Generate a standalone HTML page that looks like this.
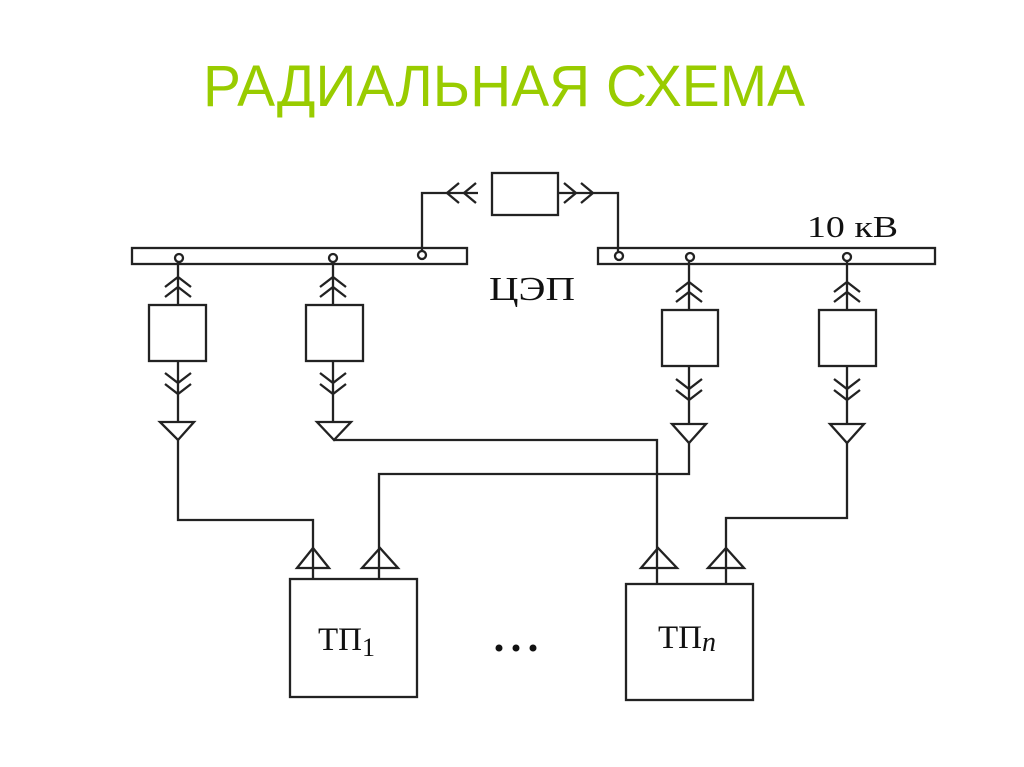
<!DOCTYPE html>
<html><head><meta charset="utf-8"><style>
html,body{margin:0;padding:0;background:#fff;width:1024px;height:767px;overflow:hidden}
svg{display:block}
</style></head><body>
<svg width="1024" height="767" viewBox="0 0 1024 767" xmlns="http://www.w3.org/2000/svg">
<text x="504" y="106" text-anchor="middle" font-family="Liberation Sans, sans-serif" font-size="58" fill="#99cc00" textLength="602" lengthAdjust="spacingAndGlyphs">РАДИАЛЬНАЯ СХЕМА</text>
<g fill="none" stroke="#222" stroke-width="2.3">
<rect x="132" y="248" width="335" height="16"/>
<rect x="598" y="248" width="337" height="16"/>
<circle cx="179" cy="258" r="4"/><circle cx="333" cy="258" r="4"/><circle cx="422" cy="255" r="4"/>
<circle cx="619" cy="256" r="4"/><circle cx="690" cy="257" r="4"/><circle cx="847" cy="257" r="4"/>
<path d="M422 251V193H478"/>
<path d="M459 183L447 193L459 203M476 183L464 193L476 203"/>
<rect x="492" y="173" width="66" height="42"/>
<path d="M558 193H596M564 183L576 193L564 203M581 183L593 193L581 203"/>
<path d="M596 193H618V252"/>
<path d="M178 262V305M165 287L178 277L191 287M165 297L178 287L191 297"/>
<rect x="149" y="305" width="57" height="56"/>
<path d="M178 361V422M165 373L178 383L191 373M165 384L178 394L191 384"/>
<path d="M160 422H194L178 440Z"/>
<path d="M178 440V520H313V579"/>
<path d="M333 262V305M320 287L333 277L346 287M320 297L333 287L346 297"/>
<rect x="306" y="305" width="57" height="56"/>
<path d="M333 361V422M320 373L333 383L346 373M320 384L333 394L346 384"/>
<path d="M317 422H351L334 440Z"/>
<path d="M334 440H657V584"/>
<path d="M689 262V310M676 292L689 282L702 292M676 302L689 292L702 302"/>
<rect x="662" y="310" width="56" height="56"/>
<path d="M689 366V424M676 379L689 389L702 379M676 390L689 400L702 390"/>
<path d="M672 424H706L689 443Z"/>
<path d="M689 443V474H379V579"/>
<path d="M847 262V310M834 292L847 282L860 292M834 302L847 292L860 302"/>
<rect x="819" y="310" width="57" height="56"/>
<path d="M847 366V424M834 379L847 389L860 379M834 390L847 400L860 390"/>
<path d="M830 424H864L847 443Z"/>
<path d="M847 443V518H726V584"/>
<path d="M297 568H329L313 548Z"/>
<path d="M362 568H398L380 548Z"/>
<path d="M641 568H677L658 548Z"/>
<path d="M708 568H744L726 548Z"/>
<rect x="290" y="579" width="127" height="118"/>
<rect x="626" y="584" width="127" height="116"/>
</g>
<g font-family="Liberation Serif, serif" fill="#111">
<text x="489" y="300" font-size="34" textLength="86" lengthAdjust="spacingAndGlyphs">ЦЭП</text>
<text x="807" y="237" font-size="31" textLength="91" lengthAdjust="spacingAndGlyphs">10 кВ</text>
<text x="318" y="650" font-size="33">ТП<tspan font-size="26" dy="6">1</tspan></text>
<text x="658" y="648" font-size="33">ТП<tspan font-size="28" font-style="italic" dy="3">n</tspan></text>
</g>
<g fill="#111"><circle cx="499" cy="648" r="3.5"/><circle cx="516" cy="648" r="3.5"/><circle cx="533" cy="648" r="3.5"/></g>
</svg>
</body></html>
